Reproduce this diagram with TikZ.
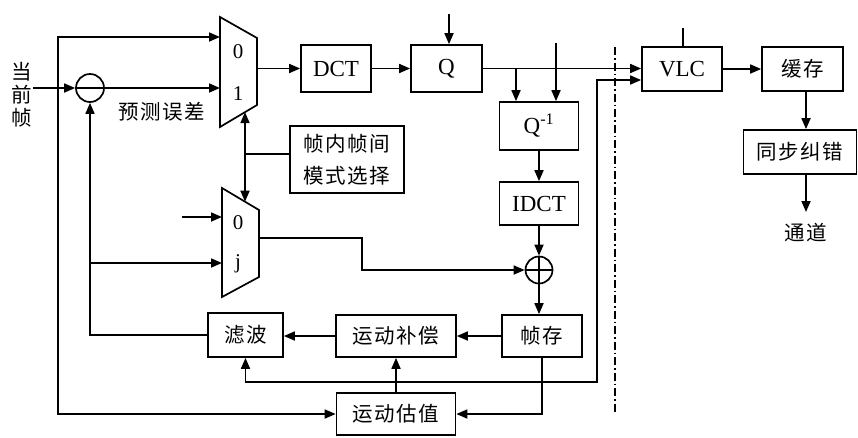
\documentclass[tikz,border=0pt]{standalone}
\usepackage{fontspec}
\setmainfont{Liberation Serif}
\newfontfamily\cjk[LetterSpace=8]{Noto Sans CJK SC}
\usetikzlibrary{arrows.meta}
\begin{document}
\begin{tikzpicture}[x=1pt,y=-1pt,
  line width=1.7pt,
  arr/.style={-{Triangle[length=11pt,width=9pt]}},
  blk/.style={draw, inner sep=0pt, font=\fontsize{23}{26}\selectfont},
  cbox/.style={draw, inner sep=0pt, font=\cjk\fontsize{20.5}{32}\selectfont},
  lbl/.style={inner sep=0pt, font=\fontsize{21}{24}\selectfont},
  clbl/.style={inner sep=0pt, font=\cjk\fontsize{20.5}{23}\selectfont},
  sumc/.style={draw, circle, minimum size=28pt, inner sep=0pt},
  dashdot/.style={line width=1.4pt, dash pattern=on 8pt off 3pt on 1.5pt off 3pt}
]
\useasboundingbox (0,0) rectangle (858,437);

% blocks
\node[blk, minimum width=70pt, minimum height=47pt] (dct) at (336,68.5) {DCT};
\node[blk, minimum width=71pt, minimum height=47pt] (q) at (446.5,68.5) {Q};
\node[blk, minimum width=79pt, minimum height=48pt] (iq) at (539,126) {Q\textsuperscript{-1}};
\node[blk, minimum width=79pt, minimum height=43pt] (idct) at (539,203.5) {IDCT};
\node[cbox, minimum width=114pt, minimum height=67pt, align=center] (mode) at (347,159.5) {帧内帧间\\模式选择};
\node[blk, minimum width=80pt, minimum height=44pt] (vlc) at (682,69) {VLC};
\node[cbox, minimum width=81pt, minimum height=44pt] (buf) at (802.5,69) {缓存};
\node[cbox, minimum width=113pt, minimum height=44pt] (sync) at (800,152) {同步纠错};
\node[cbox, minimum width=80pt, minimum height=42pt] (fs) at (542,336) {帧存};
\node[cbox, minimum width=120pt, minimum height=42pt] (mc) at (396,336) {运动补偿};
\node[cbox, minimum width=75pt, minimum height=44pt] (flt) at (245.5,335) {滤波};
\node[cbox, minimum width=119pt, minimum height=42pt] (me) at (396,414) {运动估值};

% summing circles
\node[sumc] (sub) at (90,88) {};
\draw (sub.west) -- (sub.east);
\node[sumc, minimum size=27pt] (add) at (539,270) {};
\draw (add.west) -- (add.east) (add.north) -- (add.south);

% multiplexers
\draw (220,17) -- (257,38) -- (257,105) -- (220,127) -- cycle;
\draw (222,188) -- (259,210) -- (259,277) -- (222,297) -- cycle;
\coordinate (m1in0) at (220,37);
\coordinate (m1in1) at (220,88);
\coordinate (m1out) at (257,68.5);
\coordinate (m1ctl) at (245,112.1);
\coordinate (m2in0) at (222,217);
\coordinate (m2inj) at (222,263);
\coordinate (m2out) at (259,238);
\coordinate (m2ctl) at (245,201.7);
\node[lbl] (l10) at (238,52) {0};
\node[lbl] (l11) at (238,94) {1};
\node[lbl] (l20) at (238,223) {0};
\node[lbl] (l2j) at (238,264) {j};

% texts
\node[clbl, align=center] (cur) at (22,95) {当\\前\\帧};
\node[clbl] (err) at (162,112) {预测误差};
\node[clbl] (chl) at (806,233) {通道};

% helper coordinates
\coordinate (j1) at (58,88);
\coordinate (qtop) at (449,14);
\coordinate (b1) at (516,68.5);
\coordinate (iqtop) at (556,43);
\coordinate (k) at (362,238);
\coordinate (jj) at (90,263);
\coordinate (in0) at (182,217);
\coordinate (mj) at (245,154);
\coordinate (vtop) at (683,28);
\coordinate (chan) at (806,212);
\coordinate (mv) at (396,382);
\coordinate (vr) at (597,80);
\coordinate (dtop) at (615,47);
\coordinate (dbot) at (615,413);

% connectors
\draw[arr] (cur.east |- sub) -- (sub.west);
\draw[arr] (sub.east) -- (m1in1);
\draw[arr] (j1) |- (m1in0);
\draw[arr] (j1) |- (me.west);
\draw[arr] (m1out) -- (dct.west);
\draw[arr] (dct) -- (q);
\draw[arr] (qtop) -- (qtop |- q.north);
\draw[arr] (q.east) -- (vlc.west |- q.east);
\draw[arr] (b1) -- (b1 |- iq.north);
\draw[arr] (iqtop) -- (iqtop |- iq.north);
\draw[arr] (iq) -- (idct);
\draw[arr] (idct) -- (add);
\draw[arr] (add) -- (fs.north -| add);
\draw[arr] (m2out) -- (k) |- (add.west);
\draw[arr] (fs) -- (mc);
\draw[arr] (mc.west) -- (mc.west -| flt.east);
\draw[arr] (flt.west) -| (sub.south);
\draw[arr] (jj) -- (m2inj);
\draw[arr] (in0) -- (m2in0);
\draw (mj) -- (mode.west |- mj);
\draw[arr] (mj) -- (m1ctl);
\draw[arr] (mj) -- (m2ctl);
\draw (vtop) -- (vtop |- vlc.north);
\draw[arr] (vlc) -- (buf);
\draw[arr] ([xshift=3.5pt]buf.south) -- ([xshift=3.5pt]buf.south |- sync.north);
\draw[arr] (sync.south -| chan) -- (chan);
\draw[arr] (fs.south) |- (me.east);
\draw[arr] (me) -- (mc);
\draw[arr] (mv) -| (flt.south);
\draw[arr] (mv) -| (vr) -- (vr -| vlc.west);
\draw[dashdot] (dtop) -- (dbot);
\end{tikzpicture}
\end{document}
